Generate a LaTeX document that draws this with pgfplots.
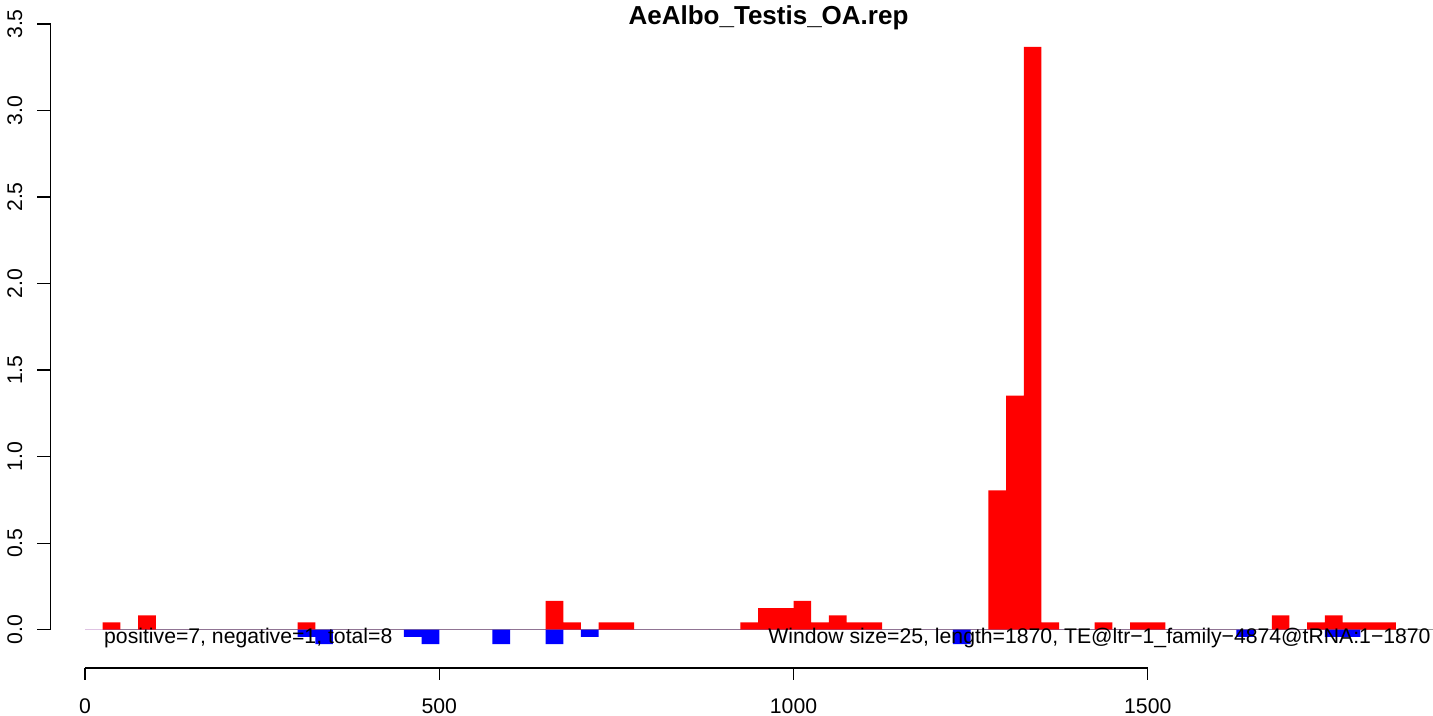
\documentclass[border=0pt]{standalone}
\usepackage{fontspec}
\setmainfont{Liberation Sans}
\usepackage{pgfplots}
\usepackage{pgfplotstable}
\pgfplotsset{compat=1.18}
\definecolor{rred}{rgb}{1,0,0}
\definecolor{rblue}{rgb}{0,0,1}
\definecolor{zgray}{rgb}{0.6,0.6,0.6}

% red (positive) bins: left edge, value
\pgfplotstableread{
x y
0 0
25 0.042
50 0
75 0.083
100 0
300 0.042
325 0
650 0.167
675 0.042
700 0
725 0.042
750 0.042
775 0
925 0.042
950 0.125
975 0.125
1000 0.167
1025 0.042
1050 0.083
1075 0.042
1100 0.042
1125 0
1275 0.805
1300 1.353
1325 3.367
1350 0.042
1375 0
1425 0.042
1450 0
1475 0.042
1500 0.042
1525 0
1675 0.083
1700 0
1725 0.042
1750 0.083
1775 0.042
1800 0.042
1825 0.042
1850 0
}\redtab

% blue (negative) bins
\pgfplotstableread{
x y
0 0
300 -0.042
325 -0.083
350 0
450 -0.042
475 -0.083
500 0
575 -0.083
600 0
650 -0.083
675 0
700 -0.042
725 0
1225 -0.083
1250 0
1625 -0.042
1650 0
1750 -0.042
1775 -0.042
1800 0
}\bluetab

\begin{document}
\begin{tikzpicture}
\begin{axis}[
  scale only axis,
  width=716.5pt, height=358pt,
  xmin=-119.97, xmax=1902.6,
  ymin=-0.4987, ymax=3.6386,
  hide axis, clip=false,
]
\coordinate (bl) at (rel axis cs:0,0);
\coordinate (tr) at (rel axis cs:1,1);
% zero line
\draw[zgray, line width=0.5pt] (axis cs:25,0) -- (axis cs:1902.6,0);
\addplot[ybar interval, fill=rred, draw=none] table[x=x,y=y] {\redtab};
\addplot[ybar interval, fill=rblue, draw=none] table[x=x,y=y] {\bluetab};
% y axis
\draw[black, line width=0.65pt] (axis cs:-48.4,0) -- (axis cs:-48.4,3.5);
\pgfplotsinvokeforeach{0.0,0.5,1.0,1.5,2.0,2.5,3.0,3.5}{
  \draw[black, line width=0.65pt] (axis cs:-48.4,#1) -- (axis cs:-67.7,#1);
  \node[rotate=90, anchor=base, inner sep=0pt, font=\fontsize{10.6}{12}\selectfont] at (axis cs:-88.9,#1) {#1};
}
% x axis
\draw[black, line width=0.65pt] (axis cs:0,-0.2213) -- (axis cs:1500,-0.2213);
\pgfplotsinvokeforeach{0,500,1000,1500}{
  \draw[black, line width=0.65pt] (axis cs:#1,-0.2213) -- (axis cs:#1,-0.2907);
  \node[anchor=base, inner sep=0pt, font=\fontsize{10.6}{12}\selectfont] at (axis cs:#1,-0.4814) {#1};
}
% annotations
\node[anchor=base west, inner sep=0pt, font=\fontsize{10.6}{12}\selectfont] at (axis cs:26.5,-0.0786) {positive=7, negative=1, total=8};
\node[anchor=base east, inner sep=0pt, font=\fontsize{10.6}{12}\selectfont] at (axis cs:1899.8,-0.0786) {Window size=25, length=1870, TE@ltr−1\_family−4874@tRNA:1−1870};
% title
\node[anchor=base, inner sep=0pt, font=\fontsize{13}{15}\selectfont\bfseries] at (axis cs:964.7,3.4941) {AeAlbo\_Testis\_OA.rep};
\end{axis}
\pgfresetboundingbox
\path (bl) rectangle (tr);
\end{tikzpicture}
\end{document}
